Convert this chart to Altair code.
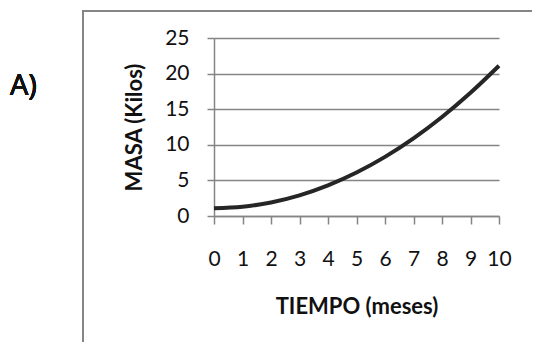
import altair as alt
import pandas as pd

tiempo = [0, 1, 2, 3, 4, 5, 6, 7, 8, 9, 10]
masa = [1.1, 1.3, 1.9, 2.9, 4.3, 6.1, 8.3, 10.9, 13.9, 17.3, 21.1]
y_ticks = [0, 5, 10, 15, 20, 25]
x_ticks = [0, 1, 2, 3, 4, 5, 6, 7, 8, 9, 10]

df = pd.DataFrame({"t": tiempo, "m": masa})

GRAY = "#858585"
FONT = "Lato"

line = alt.Chart(df).mark_line(interpolate="monotone", strokeWidth=4, color="#262626").encode(
    x=alt.X("t:Q", scale=alt.Scale(domain=[0, 10], nice=False),
            axis=alt.Axis(values=x_ticks, title="TIEMPO (meses)", grid=False,
                          tickSize=8, labelPadding=24, titlePadding=27,
                          labelOverlap=False, labelFlush=False, format="d")),
    y=alt.Y("m:Q", scale=alt.Scale(domain=[0, 25], nice=False),
            axis=alt.Axis(values=y_ticks, title="MASA (Kilos)", grid=True,
                          tickSize=7, labelPadding=18, titlePadding=18,
                          labelOverlap=False, labelFlush=False, format="d")),
)

box = alt.Chart(df).mark_rect(fill=None, stroke=GRAY, strokeWidth=2).encode(
    x=alt.value(-131), x2=alt.value(324), y=alt.value(-27), y2=alt.value(400)
)

label = alt.Chart(df).mark_text(text="A)", font="Open Sans", fontSize=29, fontWeight="normal",
                                align="left", baseline="middle", color="#111").encode(
    x=alt.value(-204), y=alt.value(48)
)

chart = alt.layer(box, line, label).properties(
    width=285, height=178,
    autosize=alt.AutoSizeParams(type="none"),
    padding={"left": 206, "top": 30, "right": 33, "bottom": 126},
).configure_view(stroke=None).configure_axis(
    domainColor=GRAY, domainWidth=1.5, tickColor=GRAY, tickWidth=1.5,
    gridColor=GRAY, gridWidth=1.5, gridOpacity=1,
    labelFont=FONT, labelFontSize=21, labelColor="#111",
    titleFont=FONT, titleFontSize=22, titleFontWeight="bold", titleColor="#111",
)

chart.save("out.html", embed_options={"renderer": "svg", "actions": False})
